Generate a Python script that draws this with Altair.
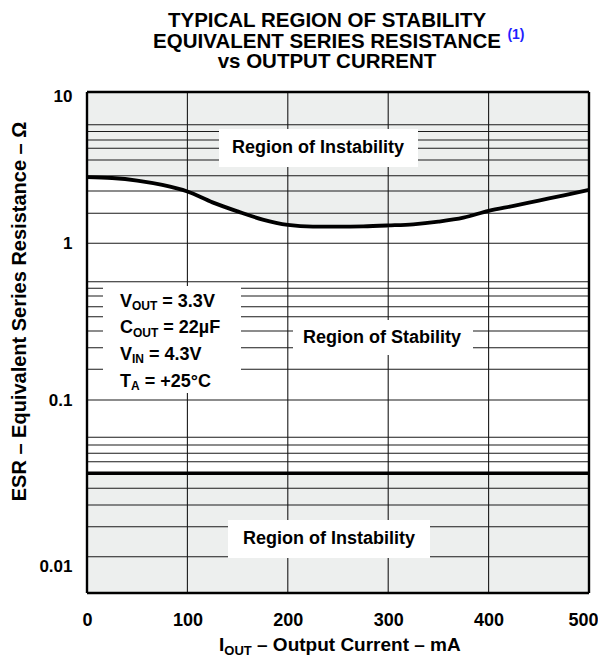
import altair as alt
import pandas as pd

# ---------------- data ----------------
current_mA = [0, 25, 50, 75, 100, 125, 150, 175, 200, 225, 250, 275, 300,
              325, 350, 375, 400, 425, 450, 475, 500]
esr_upper_limit = [3.90, 3.83, 3.65, 3.36, 2.97, 2.44, 2.07, 1.73, 1.53, 1.47,
                   1.47, 1.48, 1.51, 1.55, 1.65, 1.81, 2.09, 2.29, 2.52, 2.77, 3.06]
esr_lower_limit = 0.05

x_ticks = [0, 100, 200, 300, 400, 500]
x_grid = [100, 200, 300, 400]
y_label_ticks = [10, 1, 0.1, 0.01]
y_grid = [0.01, 0.02, 0.03, 0.04, 0.05, 0.06, 0.07, 0.08, 0.09,
          0.1, 0.2, 0.3, 0.4, 0.5, 0.6, 0.7, 0.8, 0.9,
          1, 2, 3, 4, 5, 6, 7, 8, 9]
x_min, x_max = 0, 500
y_top, y_bottom = 10, 0.0058

title_lines = ["TYPICAL REGION OF STABILITY",
               "EQUIVALENT SERIES RESISTANCE",
               "vs OUTPUT CURRENT"]
title_note = "(1)"
cond_main = ["V", "C", "V", "T"]
cond_sub = ["OUT", "OUT", "IN", "A"]
cond_rest = ["= 3.3V", "= 22µF", "= 4.3V", "= +25°C"]
x_title = ("I", "OUT", "– Output Current – mA")
y_title = "ESR – Equivalent Series Resistance – Ω"

# ---------------- styling ----------------
FONT = "Liberation Sans"
GRAY = "#edefee"
W, H = 502, 501

# the printed y axis of the original is not a uniform log grid:
# piecewise-log scale through its printed grid lines (pixel rows from top)
y_stops = [y_bottom, 0.01, 0.02, 0.03, 0.04, 0.05, 0.06, 0.07, 0.08, 0.09,
           0.1, 0.2, 0.3, 0.4, 0.5, 0.6, 0.7, 0.8, 0.9,
           1, 2, 3, 4, 5, 6, 7, 8, 9, 10]
y_stop_px = [501, 464.7, 434.7, 413, 396.3, 381.3, 369.7, 361.3, 353, 345.3,
             308, 277.3, 255.7, 239, 224.7, 214.7, 204, 196.3, 189.7,
             151.3, 121.3, 99, 83.7, 68, 56.3, 48, 39.5, 32.7, 0]

ARIAL_BOLD = {' ': 278, '(': 333, ')': 333, '+': 584, '.': 278, '=': 584,
              '°': 400, 'µ': 611, '–': 556, 'A': 722, 'C': 722, 'E': 667,
              'F': 611, 'I': 278, 'N': 722, 'O': 778, 'T': 611, 'U': 722,
              'V': 667, 'm': 889, 'u': 611, 't': 333, 'p': 611, 'r': 389,
              'e': 556, 'n': 611, 'Q': 778, 'L': 611, 'S': 667, 'R': 722}


def tw(s, size):
    return sum(ARIAL_BOLD.get(c, 556) for c in s) * size / 1000.0


xscale = alt.Scale(domain=[x_min, x_max], nice=False, zero=False)
yscale = alt.Scale(type="log", domain=y_stops, range=y_stop_px, nice=False)

x_axis = alt.Axis(values=x_ticks, format="d", grid=False, domain=False,
                  ticks=False, tickSize=0, labelPadding=18, labelFont=FONT,
                  labelFontSize=18, labelFontWeight="bold", labelColor="black",
                  labelFlush=False, title=None,
                  labelOffset={"condition": {"test": "datum.value >= 500", "value": -6},
                               "value": 0})
y_axis = alt.Axis(values=y_label_ticks, format="~g", grid=False, domain=False,
                  ticks=False, tickSize=0, labelPadding=15, labelFont=FONT,
                  labelFontSize=17, labelFontWeight="bold", labelColor="black",
                  title=None,
                  labelOffset={"condition": [
                      {"test": "datum.value >= 10", "value": 4},
                      {"test": "datum.value <= 0.01", "value": 10}],
                      "value": 0})


def X(f):
    return alt.X(f, type="quantitative", scale=xscale, axis=x_axis)


def Y(f):
    return alt.Y(f, type="quantitative", scale=yscale, axis=y_axis)


curve = pd.DataFrame({"I": current_mA, "esr": esr_upper_limit})
curve["top"] = y_top
low = pd.DataFrame({"x0": [x_min], "x1": [x_max], "lo": [esr_lower_limit], "bot": [y_bottom]})
gy = pd.DataFrame({"v": y_grid})
gx = pd.DataFrame({"v": x_grid})
bx = pd.DataFrame({"v": [x_min, x_max]})
by = pd.DataFrame({"v": [y_top, y_bottom]})
one = pd.DataFrame({"k": [0]})

layers = []
layers.append(alt.Chart(curve).mark_area(color=GRAY, interpolate="monotone").encode(
    x=X("I"), y=Y("esr"), y2=alt.Y2("top")))
layers.append(alt.Chart(low).mark_rect(color=GRAY).encode(
    x=X("x0"), x2=alt.X2("x1"), y=Y("lo"), y2=alt.Y2("bot")))
layers.append(alt.Chart(gy).mark_rule(color="#1a1a1a", strokeWidth=1.1).encode(y=Y("v")))
layers.append(alt.Chart(gx).mark_rule(color="#1a1a1a", strokeWidth=1.1).encode(x=X("v")))
layers.append(alt.Chart(curve).mark_line(color="black", strokeWidth=3.8,
                                         interpolate="monotone").encode(x=X("I"), y=Y("esr")))
layers.append(alt.Chart(low).mark_rule(color="black", strokeWidth=3.5).encode(y=Y("lo")))
layers.append(alt.Chart(bx).mark_rule(color="black", strokeWidth=2.4).encode(x=X("v")))
layers.append(alt.Chart(by).mark_rule(color="black", strokeWidth=2.4).encode(y=Y("v")))


def box(x0, x1, y0, y1):
    return alt.Chart(one).mark_rect(color="white").encode(
        x=alt.value(x0), x2=alt.value(x1), y=alt.value(y0), y2=alt.value(y1))


def txt(s, x, y, size, align="center", baseline="middle", color="black", angle=0, weight="bold"):
    kw = dict(text=s, align=align, baseline=baseline, font=FONT, fontSize=size,
              fontWeight=weight, color=color)
    if angle:
        kw["angle"] = angle
    return alt.Chart(one).mark_text(**kw).encode(x=alt.value(x), y=alt.value(y))


# label boxes
layers.append(box(132, 331, 37, 75))
layers.append(box(206, 386, 228, 263))
layers.append(box(141, 343, 428, 466))
layers.append(box(16, 154, 194, 301))

# region labels
layers.append(txt("Region of Instability", 231, 56, 18))
layers.append(txt("Region of Stability", 295, 245.5, 18))
layers.append(txt("Region of Instability", 242, 446.5, 18))

# conditions block
MAIN, SUB = 18, 12
for i in range(4):
    base = 214.5 + i * 26.7
    x0 = 33
    layers.append(txt(cond_main[i], x0, base, MAIN, align="left", baseline="alphabetic"))
    x1 = x0 + tw(cond_main[i], MAIN)
    layers.append(txt(cond_sub[i], x1, base + 3.5, SUB, align="left", baseline="alphabetic"))
    x2 = x1 + tw(cond_sub[i], SUB) + tw(" ", MAIN)
    layers.append(txt(cond_rest[i], x2, base, MAIN, align="left", baseline="alphabetic"))

# title
TS = 20.5
tcx = 240
for i, line in enumerate(title_lines):
    layers.append(txt(line, tcx, -65.3 + i * 20.8, TS, baseline="alphabetic"))
layers.append(txt(title_note, tcx + tw(title_lines[1], TS) / 2 + 5, -53, 14,
                  align="left", baseline="alphabetic", color="#1f1fff"))

# x title with subscript
XS, XSUB = 19, 13
xt0 = 132
XB = 558.5
layers.append(txt(x_title[0], xt0, XB, XS, align="left", baseline="alphabetic"))
xt1 = xt0 + tw(x_title[0], XS)
layers.append(txt(x_title[1], xt1, XB + 4, XSUB, align="left", baseline="alphabetic"))
xt2 = xt1 + tw(x_title[1], XSUB) + tw(" ", XS)
layers.append(txt(x_title[2], xt2, XB, XS, align="left", baseline="alphabetic"))

# y title
layers.append(txt(y_title, -67.5, 219.5, 20, angle=270))

chart = alt.layer(*layers).properties(
    width=W, height=H,
    autosize=alt.AutoSizeParams(type="none"),
    padding={"left": 79, "top": 84, "right": 9, "bottom": 63},
).configure(background="white").configure_view(stroke=None)

chart.save("out.html", embed_options={"renderer": "svg", "actions": False})
